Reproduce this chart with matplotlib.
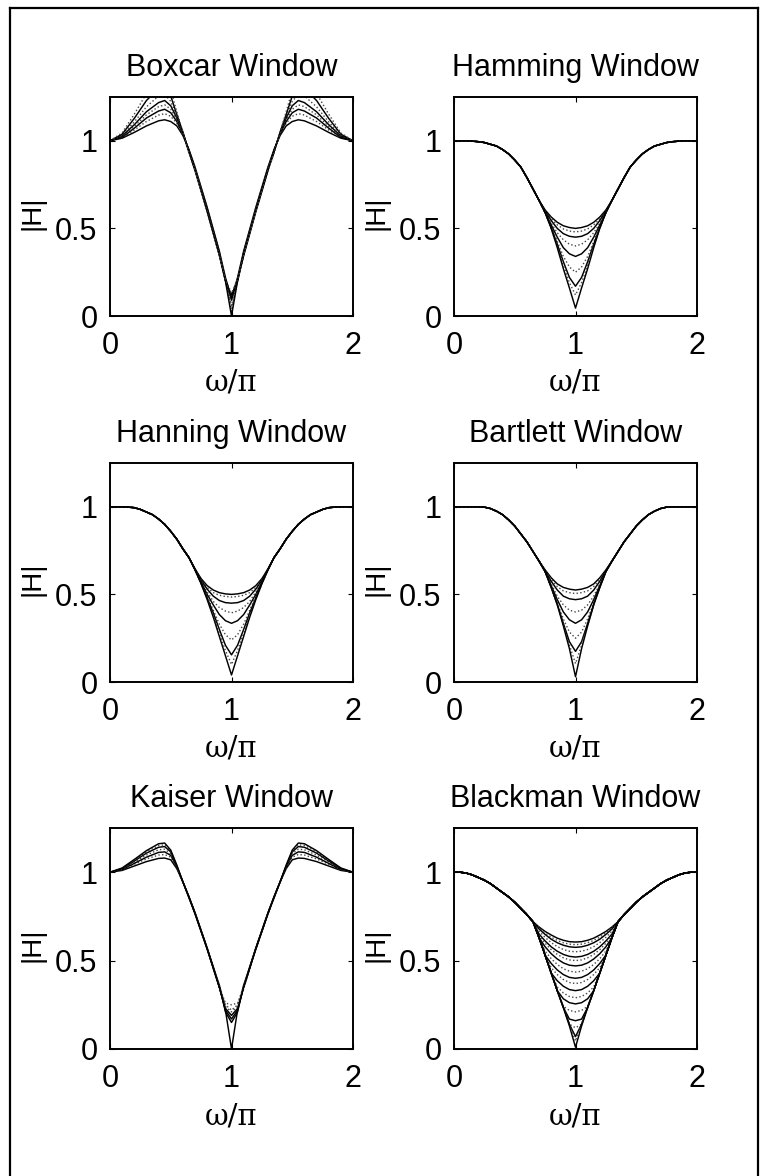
import numpy as np
import matplotlib
matplotlib.use("Agg")
import matplotlib.pyplot as plt
from matplotlib.lines import Line2D

# ---------------------------------------------------------------------------
# Magnitude responses |H| versus normalised frequency w/pi.
# Every response is symmetric about w/pi = 1, so values are listed for the
# half band 0..1 and reflected onto 1..2 when plotted.
# ---------------------------------------------------------------------------

# Boxcar / Kaiser: one full half-band row per curve
ripple_x = [0.0, 0.1, 0.2, 0.3, 0.4, 0.45, 0.5, 0.55, 0.6, 0.65, 0.7, 0.8, 0.9, 0.95, 1.0]

boxcar_curves = [
    [1.0, 1.015, 1.048, 1.085, 1.114, 1.12, 1.11, 1.085, 1.03, 0.95, 0.85, 0.62, 0.37, 0.22, 0.10],
    [1.0, 1.018, 1.062, 1.11, 1.147, 1.155, 1.14, 1.10, 1.035, 0.945, 0.845, 0.615, 0.365, 0.21, 0.02],
    [1.0, 1.02, 1.072, 1.13, 1.17, 1.18, 1.16, 1.11, 1.04, 0.945, 0.84, 0.61, 0.36, 0.20, 0.12],
    [1.0, 1.025, 1.082, 1.148, 1.195, 1.205, 1.18, 1.12, 1.04, 0.94, 0.84, 0.605, 0.355, 0.205, 0.04],
    [1.0, 1.028, 1.092, 1.166, 1.218, 1.23, 1.20, 1.13, 1.045, 0.94, 0.835, 0.60, 0.35, 0.21, 0.09],
    [1.0, 1.032, 1.108, 1.194, 1.256, 1.265, 1.225, 1.14, 1.045, 0.935, 0.835, 0.60, 0.35, 0.20, 0.06],
    [1.0, 1.038, 1.128, 1.23, 1.30, 1.31, 1.255, 1.15, 1.05, 0.935, 0.83, 0.595, 0.345, 0.20, 0.0],
    [1.0, 1.045, 1.152, 1.27, 1.36, 1.37, 1.29, 1.165, 1.05, 0.93, 0.83, 0.595, 0.345, 0.21, 0.13],
]

kaiser_curves = [
    [1.0, 1.01, 1.035, 1.06, 1.078, 1.08, 1.07, 1.02, 0.945, 0.86, 0.77, 0.57, 0.35, 0.22, 0.0],
    [1.0, 1.013, 1.045, 1.075, 1.097, 1.10, 1.085, 1.025, 0.945, 0.86, 0.77, 0.57, 0.34, 0.25, 0.22],
    [1.0, 1.015, 1.05, 1.085, 1.112, 1.115, 1.095, 1.03, 0.945, 0.86, 0.77, 0.57, 0.36, 0.21, 0.15],
    [1.0, 1.017, 1.057, 1.097, 1.127, 1.13, 1.105, 1.03, 0.945, 0.86, 0.765, 0.565, 0.35, 0.26, 0.25],
    [1.0, 1.02, 1.063, 1.108, 1.141, 1.145, 1.115, 1.035, 0.945, 0.86, 0.765, 0.565, 0.35, 0.23, 0.19],
    [1.0, 1.022, 1.068, 1.115, 1.151, 1.155, 1.12, 1.035, 0.945, 0.855, 0.765, 0.565, 0.36, 0.24, 0.21],
    [1.0, 1.024, 1.072, 1.122, 1.161, 1.165, 1.125, 1.04, 0.945, 0.855, 0.765, 0.565, 0.35, 0.22, 0.17],
]

# Tapered windows: a shared passband part, then one row per curve near w = pi
shared_x = [0.0, 0.05, 0.1, 0.15, 0.2, 0.25, 0.3, 0.35, 0.4, 0.45, 0.5, 0.55, 0.6, 0.65]
notch_x = [0.7, 0.75, 0.8, 0.85, 0.9, 0.95, 1.0]

hamming_shared = [1.0, 1.0, 1.0, 0.998, 0.995, 0.99, 0.98, 0.97, 0.95, 0.925, 0.89, 0.85, 0.79, 0.725]
hamming_notch = [
    [0.66, 0.605, 0.565, 0.535, 0.515, 0.505, 0.50],
    [0.66, 0.60, 0.555, 0.52, 0.497, 0.485, 0.48],
    [0.66, 0.60, 0.545, 0.50, 0.47, 0.455, 0.45],
    [0.66, 0.595, 0.53, 0.475, 0.435, 0.41, 0.40],
    [0.66, 0.59, 0.52, 0.45, 0.39, 0.355, 0.34],
    [0.66, 0.59, 0.51, 0.425, 0.34, 0.28, 0.25],
    [0.66, 0.59, 0.505, 0.41, 0.31, 0.22, 0.17],
    [0.66, 0.59, 0.50, 0.40, 0.29, 0.19, 0.12],
    [0.66, 0.59, 0.50, 0.39, 0.27, 0.16, 0.045],
]

hanning_shared = [1.0, 1.0, 1.0, 0.998, 0.995, 0.985, 0.97, 0.955, 0.93, 0.90, 0.86, 0.815, 0.76, 0.71]
hanning_notch = [
    [0.645, 0.59, 0.55, 0.525, 0.51, 0.503, 0.50],
    [0.645, 0.585, 0.54, 0.51, 0.495, 0.488, 0.485],
    [0.645, 0.58, 0.53, 0.49, 0.465, 0.453, 0.45],
    [0.64, 0.575, 0.515, 0.46, 0.425, 0.405, 0.395],
    [0.64, 0.57, 0.50, 0.44, 0.385, 0.35, 0.335],
    [0.64, 0.565, 0.49, 0.41, 0.33, 0.27, 0.24],
    [0.64, 0.565, 0.48, 0.395, 0.30, 0.21, 0.155],
    [0.64, 0.56, 0.475, 0.38, 0.28, 0.18, 0.10],
    [0.64, 0.56, 0.47, 0.37, 0.26, 0.15, 0.04],
]

bartlett_shared = [1.0, 1.0, 1.0, 1.0, 1.0, 0.998, 0.99, 0.975, 0.955, 0.925, 0.89, 0.845, 0.80, 0.745]
bartlett_notch = [
    [0.69, 0.64, 0.595, 0.56, 0.54, 0.53, 0.525],
    [0.69, 0.635, 0.585, 0.545, 0.52, 0.51, 0.505],
    [0.69, 0.635, 0.575, 0.525, 0.49, 0.475, 0.47],
    [0.69, 0.63, 0.56, 0.49, 0.44, 0.41, 0.40],
    [0.69, 0.63, 0.55, 0.47, 0.40, 0.355, 0.335],
    [0.69, 0.63, 0.545, 0.45, 0.36, 0.285, 0.25],
    [0.69, 0.63, 0.54, 0.445, 0.335, 0.23, 0.175],
    [0.69, 0.63, 0.54, 0.44, 0.325, 0.21, 0.105],
    [0.69, 0.63, 0.54, 0.44, 0.32, 0.19, 0.03],
]

blackman_shared = [1.0, 1.0, 0.995, 0.985, 0.97, 0.955, 0.935, 0.91, 0.885, 0.86, 0.83, 0.795, 0.76, 0.72]
blackman_notch = [
    [0.69, 0.665, 0.645, 0.627, 0.615, 0.607, 0.605],
    [0.687, 0.657, 0.633, 0.614, 0.601, 0.593, 0.59],
    [0.679, 0.648, 0.621, 0.601, 0.587, 0.578, 0.575],
    [0.667, 0.631, 0.602, 0.579, 0.563, 0.553, 0.55],
    [0.65, 0.611, 0.578, 0.553, 0.535, 0.524, 0.52],
    [0.64, 0.598, 0.562, 0.535, 0.516, 0.504, 0.50],
    [0.63, 0.578, 0.539, 0.509, 0.487, 0.474, 0.47],
    [0.63, 0.554, 0.511, 0.478, 0.454, 0.44, 0.435],
    [0.63, 0.531, 0.484, 0.447, 0.421, 0.405, 0.40],
    [0.63, 0.53, 0.46, 0.421, 0.393, 0.376, 0.37],
    [0.63, 0.53, 0.43, 0.386, 0.355, 0.336, 0.33],
    [0.63, 0.53, 0.43, 0.351, 0.317, 0.297, 0.29],
    [0.63, 0.53, 0.43, 0.33, 0.284, 0.262, 0.255],
    [0.63, 0.53, 0.43, 0.33, 0.241, 0.218, 0.21],
    [0.63, 0.53, 0.43, 0.33, 0.235, 0.169, 0.16],
    [0.63, 0.53, 0.43, 0.33, 0.235, 0.14, 0.12],
    [0.63, 0.53, 0.43, 0.33, 0.235, 0.14, 0.07],
    [0.63, 0.53, 0.43, 0.33, 0.235, 0.14, 0.045],
    [0.63, 0.53, 0.43, 0.33, 0.235, 0.13, 0.01],
]

titles = ["Boxcar Window", "Hamming Window", "Hanning Window",
          "Bartlett Window", "Kaiser Window", "Blackman Window"]
x_ticks = [0, 1, 2]
y_ticks = [0, 0.5, 1]
y_tick_labels = ["0", "0.5", "1"]


def full_band(xh, yh):
    """Reflect a half-band response (0..1) onto 0..2."""
    xh = np.asarray(xh, float)
    yh = np.asarray(yh, float)
    x = np.concatenate([xh, 2.0 - xh[::-1][1:]])
    y = np.concatenate([yh, yh[::-1][1:]])
    return x, y


def ripple_family(curves):
    return [full_band(ripple_x, c) for c in curves]


def notch_family(shared, notch):
    return [full_band(list(shared_x) + list(notch_x), list(shared) + list(c)) for c in notch]


families = [
    ripple_family(boxcar_curves),
    notch_family(hamming_shared, hamming_notch),
    notch_family(hanning_shared, hanning_notch),
    notch_family(bartlett_shared, bartlett_notch),
    ripple_family(kaiser_curves),
    notch_family(blackman_shared, blackman_notch),
]

plt.rcParams["font.family"] = ["Liberation Sans", "DejaVu Sans"]

W, H = 761, 1176
fig = plt.figure(figsize=(W / 100, H / 100), dpi=100)

# outer frame
fig.add_artist(Line2D([10 / W, 10 / W], [0, 1 - 8 / H], color="black", lw=1.6))
fig.add_artist(Line2D([10 / W, 758 / W], [1 - 8 / H, 1 - 8 / H], color="black", lw=1.6))
fig.add_artist(Line2D([758 / W, 758 / W], [0, 1 - 8 / H], color="black", lw=1.6))

col_left = [110, 454]
col_width = 243
row_top = [97, 463, 828]
row_height = [219, 219, 221]

for idx, (title, fam) in enumerate(zip(titles, families)):
    r, c = divmod(idx, 2)
    ax = fig.add_axes([col_left[c] / W, 1 - (row_top[r] + row_height[r]) / H,
                       col_width / W, row_height[r] / H])
    for j, (x, y) in enumerate(fam):
        if j % 2 == 0:
            ax.plot(x, y, color="black", lw=1.05, ls="-")
        else:
            ax.plot(x, y, color="#444444", lw=1.0, ls=":")
    ax.set_xlim(0, 2)
    ax.set_ylim(0, 1.25)
    ax.set_xticks(x_ticks)
    ax.set_yticks(y_ticks)
    ax.set_yticklabels(y_tick_labels)
    ax.tick_params(direction="in", length=3.5, width=0.8, top=True, right=True,
                   labelsize=22, pad=9)
    ax.tick_params(axis="x", pad=11)
    for s in ax.spines.values():
        s.set_linewidth(1.4)
    ax.set_title(title, fontsize=22, pad=15)
    ax.set_xlabel("ω/π", fontsize=21, family=["DejaVu Serif"], va="center")
    ax.xaxis.set_label_coords(0.5, -0.305)
    ax.text(-0.32, 0.47, "|H|", transform=ax.transAxes, rotation=90,
            ha="center", va="center", fontsize=20)

fig.savefig("out.png", dpi=100)
